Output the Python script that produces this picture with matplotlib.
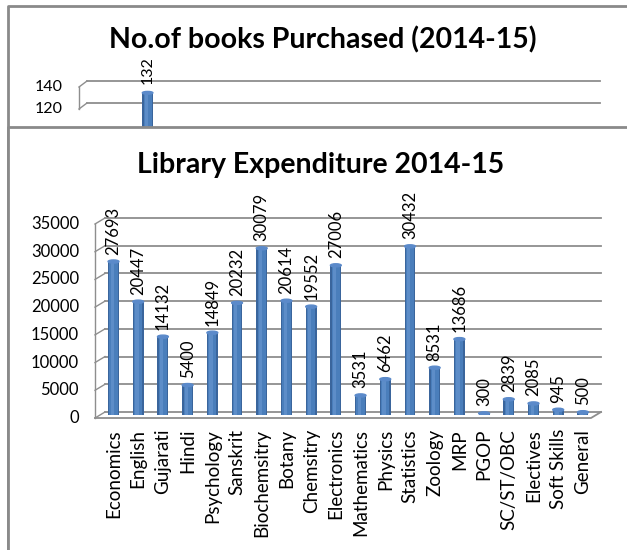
import numpy as np
import matplotlib
matplotlib.use('Agg')
import matplotlib.pyplot as plt
import matplotlib.transforms as mtransforms
from matplotlib.patches import Rectangle, Ellipse
from matplotlib.lines import Line2D

plt.rcParams['font.family'] = ['Lato', 'DejaVu Sans']

# data
subjects = ['Economics', 'English', 'Gujarati', 'Hindi', 'Psychology', 'Sanskrit',
            'Biochemsitry', 'Botany', 'Chemsitry', 'Electronics', 'Mathematics',
            'Physics', 'Statistics', 'Zoology', 'MRP', 'PGOP', 'SC/ST/OBC',
            'Electives', 'Soft Skills', 'General']
expenditure = [27693, 20447, 14132, 5400, 14849, 20232, 30079, 20614, 19552, 27006,
               3531, 6462, 30432, 8531, 13686, 300, 2839, 2085, 945, 500]
exp_ticks = [0, 5000, 10000, 15000, 20000, 25000, 30000, 35000]

# back chart (mostly hidden): only one bar is visible
books_visible = [132]
books_ticks = [120, 140]

W, H = 627, 550
fig = plt.figure(figsize=(W / 100, H / 100), dpi=100)

BAR = '#4A7EBB'
BAR_DARK = '#3A659C'
BAR_LIGHT = '#6D9BD3'
GRID = '#8E8E8E'
FRAME = '#8A8A8A'


def fx(x):
    return x / W


def fy(y):
    return 1 - y / H


def shift(ax, dx, dy, base):
    return base + mtransforms.ScaledTranslation(dx / 100, dy / 100, fig.dpi_scale_trans)


def border(x0, y0, zorder):
    # only the left and top edges of a chart frame are inside the picture
    fig.add_artist(Line2D([fx(x0), fx(x0), 1.0], [0, fy(y0), fy(y0)],
                          transform=fig.transFigure, color=FRAME, lw=2, zorder=zorder))


def draw_shell(ax, ticks, top, dx=5, dy=3):
    ytr = ax.get_yaxis_transform()
    back = shift(ax, dx, dy, ytr)
    front = shift(ax, -dx, -dy, ytr)
    for v in ticks:
        ax.plot([0, 1], [v, v], transform=back, color=GRID, lw=1.3, clip_on=False, zorder=1)
        # side wall diagonal
        p0 = front.transform((0, v))
        p1 = back.transform((0, v))
        ax.plot([p0[0], p1[0]], [p0[1], p1[1]], transform=None, color=GRID, lw=1.0,
                clip_on=False, zorder=1)
    p0 = front.transform((0, ticks[0]))
    p1 = front.transform((0, top))
    ax.plot([p0[0], p1[0]], [p0[1], p1[1]], transform=None, color=GRID, lw=1.0,
            clip_on=False, zorder=1)


def tick_labels(ax, ticks, dx, dy, size):
    tr = shift(ax, dx, dy, ax.get_yaxis_transform())
    for v in ticks:
        ax.text(0, v, str(v), transform=tr, ha='right', va='center', fontsize=size,
                clip_on=False)


def draw_bars(ax, xs, vals, width, cap_h):
    ax.bar(xs, vals, width=width, color=BAR_DARK, zorder=3)
    ax.bar(xs, vals, width=width * 0.75, color=BAR, zorder=3)
    ax.bar(np.asarray(xs) - width * 0.12, vals, width=width * 0.3, color=BAR_LIGHT,
           alpha=0.55, zorder=3)
    for x, v in zip(xs, vals):
        ax.add_patch(Ellipse((x, v), width, cap_h, color='#5B8ACA', zorder=4))


# ---------------- back chart: No.of books Purchased ----------------
border(8, 6, 0)
fig.text(fx(323), fy(40), 'No.of books Purchased (2014-15)', ha='center', va='center',
         fontsize=20.5, fontweight='bold', zorder=1)

# 140 at y=84, 1.1 px per book
axb = fig.add_axes([fx(83), fy(84 + 140 * 1.1), fx(596) - fx(83), (140 * 1.1) / H], zorder=1)
axb.set_xlim(-1.65, 11.45)
axb.set_ylim(0, 140)
axb.axis('off')
draw_shell(axb, books_ticks, 140, dx=4, dy=3)
tick_labels(axb, books_ticks, -20, -3, 11.5)
draw_bars(axb, [0], books_visible, 0.27, 2.5)
axb.annotate(str(books_visible[0]), (0, books_visible[0]), xytext=(0, 6),
             textcoords='offset points', rotation=90, ha='center', va='bottom', fontsize=11.5)

# ---------------- front chart: Library Expenditure ----------------
panel = fig.add_axes([fx(8), 0, 1 - fx(8), fy(127)], zorder=2)
panel.axis('off')
panel.add_patch(Rectangle((0, 0), 1, 1, transform=panel.transAxes, facecolor='white',
                          edgecolor='none'))
border(8, 127, 2.5)

fig.text(fx(321), fy(165), 'Library Expenditure 2014-15', ha='center', va='center',
         fontsize=20.5, fontweight='bold', zorder=5)

ax = fig.add_axes([fx(100), fy(415), fx(596) - fx(100), (415 - 221) / H], zorder=3)
ax.patch.set_alpha(0)
ax.set_xlim(-0.547, 19.53)
ax.set_ylim(0, 35000)
for s in ax.spines.values():
    s.set_visible(False)

draw_shell(ax, exp_ticks, 35000)
# floor front edge and right side
front = shift(ax, -5, -3, ax.transAxes)
back = shift(ax, 5, 3, ax.transAxes)
a, b, c = front.transform((0, 0)), front.transform((1, 0)), back.transform((1, 0))
ax.plot([a[0], b[0], c[0]], [a[1], b[1], c[1]], transform=None, color=GRID, lw=1.3,
        clip_on=False, zorder=2)

x = np.arange(len(subjects))
draw_bars(ax, x, expenditure, 0.44, 560)
for xi, v in zip(x, expenditure):
    ax.annotate(str(v), (xi, v), xytext=(0, 5), textcoords='offset points', rotation=90,
                ha='center', va='bottom', fontsize=12)

ax.set_yticks([])
tick_labels(ax, exp_ticks, -21, -3, 12)
ax.set_xticks(x)
ax.set_xticklabels(subjects, rotation=90, fontsize=13.5)
ax.tick_params(axis='x', length=0, pad=10)

fig.savefig('out.png', dpi=100)
